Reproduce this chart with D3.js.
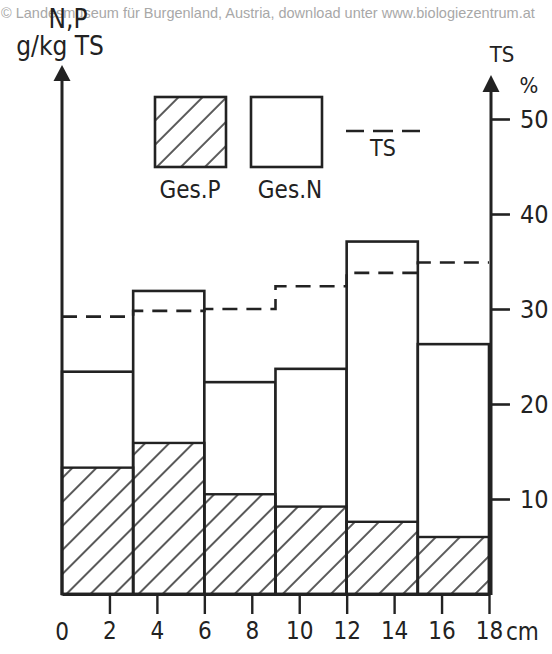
<!DOCTYPE html>
<html>
<head>
<meta charset="utf-8">
<script src="https://cdn.jsdelivr.net/npm/d3@7"></script>
<style>
  body { margin: 0; background: #fff; }
  svg { display: block; }
  text { font-family: "DejaVu Sans Condensed", "DejaVu Sans", sans-serif; fill: #222; }
</style>
</head>
<body>
<svg></svg>
<script>
// depth bins (cm) and values
var depthEdges = [0, 3, 6, 9, 12, 15, 18];
var gesN = [23.4, 31.9, 22.3, 23.7, 37.1, 26.3];   // g/kg TS
var gesP = [13.3, 15.9, 10.5, 9.2, 7.6, 6.0];      // g/kg TS
var ts = [29.2, 29.8, 30.0, 32.4, 33.8, 34.9];     // % TS
var xTicks = [2, 4, 6, 8, 10, 12, 14, 16, 18];
var tsTicks = [10, 20, 30, 40, 50];

var width = 552,
  height = 654,
  ink = '#222';

var svg = d3.select('svg')
  .attr('width', width)
  .attr('height', height);

var x = d3.scaleLinear().domain([0, 18]).range([62, 489]);
var y = d3.scaleLinear().domain([0, 50]).range([594, 119]);   // N,P and TS share the frame

// hatch pattern for Ges.P
var defs = svg.append('defs');
defs.append('pattern')
  .attr('id', 'hatch')
  .attr('patternUnits', 'userSpaceOnUse')
  .attr('width', 40).attr('height', 17)
  .attr('patternTransform', 'rotate(-45)')
  .append('line')
  .attr('x1', 0).attr('x2', 40)
  .attr('y1', 8).attr('y2', 8)
  .attr('stroke', ink).attr('stroke-width', 1.4);

// watermark
svg.append('text')
  .attr('x', 1).attr('y', 18)
  .style('font-family', '"Liberation Sans", Arial, sans-serif')
  .style('font-size', '14.5px')
  .style('fill', '#a8a8a8')
  .text('© Landesmuseum für Burgenland, Austria, download unter www.biologiezentrum.at');

var bins = gesN.map((d, i) => ({ x0: depthEdges[i], x1: depthEdges[i + 1], n: d, p: gesP[i], ts: ts[i] }));

// Ges.N bars
svg.append('g').selectAll('rect').data(bins)
  .join('rect')
  .attr('x', d => x(d.x0))
  .attr('width', d => x(d.x1) - x(d.x0))
  .attr('y', d => y(d.n))
  .attr('height', d => y(0) - y(d.n))
  .attr('fill', '#fff')
  .attr('stroke', ink).attr('stroke-width', 2.6);

// Ges.P bars
svg.append('g').selectAll('rect').data(bins)
  .join('rect')
  .attr('x', d => x(d.x0))
  .attr('width', d => x(d.x1) - x(d.x0))
  .attr('y', d => y(d.p))
  .attr('height', d => y(0) - y(d.p))
  .attr('fill', 'url(#hatch)')
  .attr('stroke', ink).attr('stroke-width', 2.4);

// TS step line
var tsPts = [];
bins.forEach(d => { tsPts.push([d.x0, d.ts]); tsPts.push([d.x1, d.ts]); });
svg.append('path')
  .attr('d', d3.line().x(d => x(d[0])).y(d => y(d[1]))(tsPts))
  .attr('fill', 'none')
  .attr('stroke', ink).attr('stroke-width', 2.6)
  .attr('stroke-dasharray', '15,9');

// x axis
var xAxis = svg.append('g')
  .attr('transform', 'translate(0,' + y(0) + ')')
  .call(d3.axisBottom(x).tickValues(xTicks).tickSize(20).tickPadding(8).tickSizeOuter(0));
xAxis.select('.domain').attr('stroke', ink).attr('stroke-width', 3);
xAxis.selectAll('.tick line').attr('stroke', ink).attr('stroke-width', 2.4);
xAxis.selectAll('.tick text').style('font-size', '24px').attr('fill', ink);
xAxis.append('text').attr('x', x(0)).attr('y', 46)
  .attr('text-anchor', 'middle').style('font-size', '24px').text('0');
xAxis.append('text').attr('x', x(18) + 17).attr('y', 46)
  .attr('text-anchor', 'start').style('font-size', '24px').text('cm');

// left axis (N,P) without ticks
svg.append('line')
  .attr('x1', x(0)).attr('x2', x(0))
  .attr('y1', y(0) + 1).attr('y2', 78)
  .attr('stroke', ink).attr('stroke-width', 3);
svg.append('path')
  .attr('d', 'M' + x(0) + ',65 l-8.5,16 h17 z')
  .attr('fill', ink);
svg.append('text').attr('x', 68).attr('y', 28)
  .attr('text-anchor', 'middle').style('font-size', '26px').text('N,P');
svg.append('text').attr('x', 60).attr('y', 55)
  .attr('text-anchor', 'middle').style('font-size', '26px').text('g/kg TS');

// right axis (TS %)
var rx = x(18) + 2;
var yAxis = svg.append('g')
  .attr('transform', 'translate(' + rx + ',0)')
  .call(d3.axisRight(y).tickValues(tsTicks).tickSize(19).tickPadding(10).tickSizeOuter(0));
yAxis.select('.domain').remove();
yAxis.selectAll('.tick line').attr('stroke', ink).attr('stroke-width', 2.6);
yAxis.selectAll('.tick text').style('font-size', '25px').attr('fill', ink);
svg.append('line')
  .attr('x1', rx).attr('x2', rx)
  .attr('y1', y(0) + 1).attr('y2', 88)
  .attr('stroke', ink).attr('stroke-width', 3);
svg.append('path')
  .attr('d', 'M' + rx + ',75 l-8.5,17 h17 z')
  .attr('fill', ink);
svg.append('text').attr('x', rx + 11).attr('y', 62)
  .attr('text-anchor', 'middle').style('font-size', '22px').text('TS');
svg.append('text').attr('x', 529).attr('y', 93)
  .attr('text-anchor', 'middle').style('font-size', '22px').text('%');

// legend
var legend = svg.append('g');
legend.append('rect')
  .attr('x', 155).attr('y', 97).attr('width', 71).attr('height', 70)
  .attr('fill', 'url(#hatch)').attr('stroke', ink).attr('stroke-width', 2.6);
legend.append('rect')
  .attr('x', 251).attr('y', 97).attr('width', 71).attr('height', 70)
  .attr('fill', '#fff').attr('stroke', ink).attr('stroke-width', 2.6);
legend.append('line')
  .attr('x1', 346).attr('x2', 420).attr('y1', 131).attr('y2', 131)
  .attr('stroke', ink).attr('stroke-width', 2.6)
  .attr('stroke-dasharray', '18,9,20,9,18');
legend.append('text').attr('x', 190).attr('y', 198)
  .attr('text-anchor', 'middle').style('font-size', '24px').text('Ges.P');
legend.append('text').attr('x', 290).attr('y', 198)
  .attr('text-anchor', 'middle').style('font-size', '24px').text('Ges.N');
legend.append('text').attr('x', 383).attr('y', 156)
  .attr('text-anchor', 'middle').style('font-size', '23px').text('TS');
</script>
</body>
</html>
